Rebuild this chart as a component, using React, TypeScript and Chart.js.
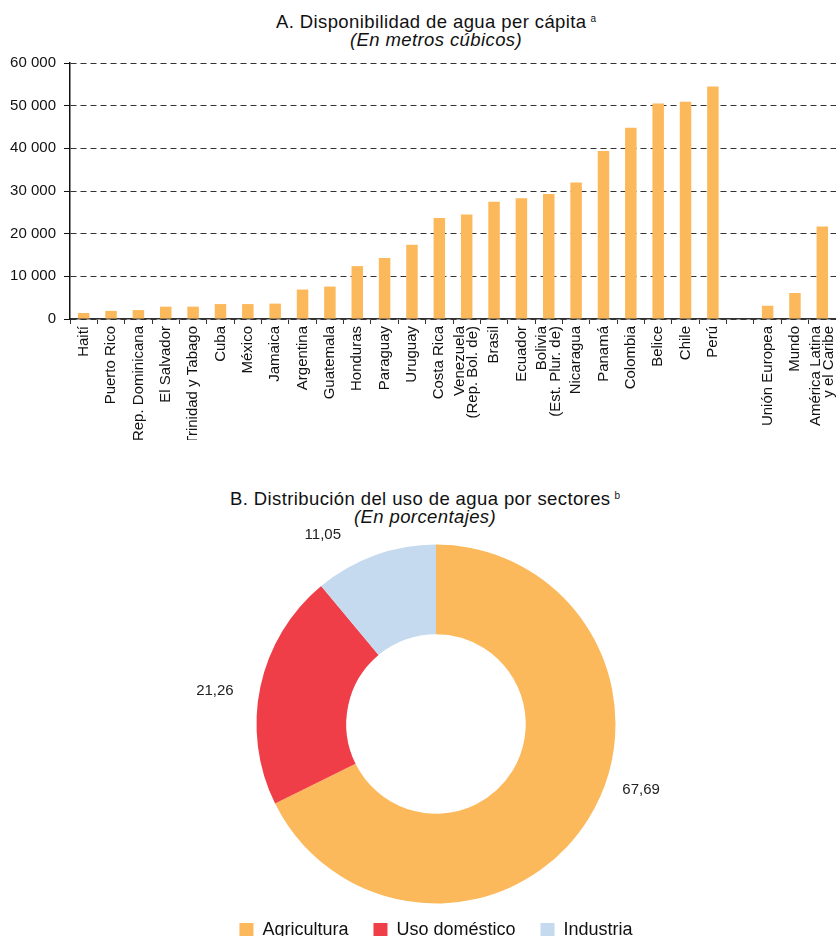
import React, { useEffect, useRef } from 'react';
import { Chart, registerables } from 'chart.js';

Chart.register(...registerables);

const FONT = "'Liberation Sans', Arial, Helvetica, sans-serif";

const countries: (string | string[])[] = [
  'Haití', 'Puerto Rico', 'Rep. Dominicana', 'El Salvador', 'Trinidad y Tabago', 'Cuba', 'México',
  'Jamaica', 'Argentina', 'Guatemala', 'Honduras', 'Paraguay', 'Uruguay', 'Costa Rica',
  ['Venezuela', '(Rep. Bol. de)'], 'Brasil', 'Ecuador', ['Bolivia', '(Est. Plur. de)'], 'Nicaragua',
  'Panamá', 'Colombia', 'Belice', 'Chile', 'Perú', '', 'Unión Europea', 'Mundo',
  ['América Latina', 'y el Caribe'],
];
const waterPerCapita: (number | null)[] = [
  1400, 1900, 2100, 2900, 2900, 3500, 3500, 3600, 6900, 7600, 12400, 14300, 17400, 23700,
  24500, 27500, 28300, 29300, 32000, 39400, 44800, 50500, 50900, 54500, null, 3100, 6100, 21700,
];
const yMin = 0;
const yMax = 60000;
const yStep = 10000;

const sectors = ['Agricultura', 'Uso doméstico', 'Industria'];
const sectorShares = [67.69, 21.26, 11.05];
const sectorLabels = ['67,69', '21,26', '11,05'];
const sectorColors = ['#FCB95B', '#EF3E48', '#C5D9EF'];
const labelShiftDeg = [-14, -3.5, -11];
const labelGap = [36, 44, 41];

const BAR_COLOR = '#FCB95B';

const fmtThousands = (v: number) => String(v).replace(/\B(?=(\d{3})+(?!\d))/g, ' ');

// Centre multi-line rotated tick labels on their tick
const centerMultilinePlugin = {
  id: 'centerMultiline',
  beforeDraw(chart: any) {
    const scale = chart.scales.x;
    if (!scale || !scale.getLabelItems) return;
    const items = scale.getLabelItems();
    items.forEach((item: any) => {
      if (Array.isArray(item.label) && item.label.length > 1 && !item._centered) {
        const lh = item.font.lineHeight;
        item.options.translation[0] -= ((item.label.length - 1) * lh) / 2;
        item._centered = true;
      }
    });
  },
};

const sliceLabelPlugin = {
  id: 'sliceLabels',
  afterDatasetsDraw(chart: any) {
    const meta = chart.getDatasetMeta(0);
    const ctx = chart.ctx;
    ctx.save();
    ctx.font = `15px ${FONT}`;
    ctx.fillStyle = '#222';
    ctx.textAlign = 'center';
    ctx.textBaseline = 'middle';
    meta.data.forEach((arc: any, i: number) => {
      const { x, y, startAngle, endAngle, outerRadius } = arc.getProps(
        ['x', 'y', 'startAngle', 'endAngle', 'outerRadius'], true);
      const a = (startAngle + endAngle) / 2 + (labelShiftDeg[i] * Math.PI) / 180;
      const r = outerRadius + labelGap[i];
      ctx.fillText(sectorLabels[i], x + r * Math.cos(a), y + r * Math.sin(a));
    });
    ctx.restore();
  },
};

export default function App() {
  const barRef = useRef<HTMLCanvasElement>(null);
  const pieRef = useRef<HTMLCanvasElement>(null);

  useEffect(() => {
    Chart.defaults.font.family = FONT;
    Chart.defaults.color = '#111';

    const bar = new Chart(barRef.current!, {
      type: 'bar',
      data: {
        labels: countries as any,
        datasets: [{
          data: waterPerCapita,
          backgroundColor: BAR_COLOR,
          borderWidth: 0,
          barPercentage: 0.42,
          categoryPercentage: 1,
        }],
      },
      options: {
        animation: false,
        responsive: false,
        maintainAspectRatio: false,
        layout: { padding: { top: 63, left: 10, right: 0, bottom: 0 } },
        plugins: { legend: { display: false }, tooltip: { enabled: false }, title: { display: false } },
        scales: {
          x: {
            offset: true,
            grid: {
              display: true, drawOnChartArea: false, drawTicks: true, tickLength: 5,
              color: '#333', offset: true,
            },
            border: { display: true, color: '#333', width: 1.5 },
            ticks: {
              autoSkip: false, minRotation: 90, maxRotation: 90, padding: 2,
              font: { size: 15, lineHeight: 0.89 }, color: '#111',
            },
            afterFit: (s: any) => { s.height = 121; s.paddingLeft = 0; s.paddingRight = 0; },
          },
          y: {
            min: yMin, max: yMax,
            grid: { color: '#333', lineWidth: 1, tickLength: 6, drawTicks: true, tickColor: '#111' },
            border: { display: true, color: '#111', width: 1.5, dash: [6, 4] },
            ticks: {
              stepSize: yStep, padding: 8, font: { size: 15 }, color: '#111',
              callback: (v: any) => fmtThousands(Number(v)),
            },
            afterFit: (s: any) => { s.width = 60; },
          },
        },
      },
      plugins: [centerMultilinePlugin],
    });

    const pie = new Chart(pieRef.current!, {
      type: 'doughnut',
      data: {
        labels: sectors,
        datasets: [{
          data: sectorShares,
          backgroundColor: sectorColors,
          borderWidth: 0,
          radius: 179.5,
          cutout: '50%',
          clip: false,
        } as any],
      },
      options: {
        animation: false,
        responsive: false,
        maintainAspectRatio: false,
        layout: { padding: { top: 105, left: 36, right: 0, bottom: 18 } },
        plugins: {
          tooltip: { enabled: false },
          legend: {
            display: true,
            position: 'bottom',
            labels: {
              boxWidth: 14, boxHeight: 14, padding: 25,
              font: { size: 18 }, color: '#111',
            },
          },
        },
      },
      plugins: [sliceLabelPlugin],
    });

    return () => { bar.destroy(); pie.destroy(); };
  }, []);

  const titleStyle: React.CSSProperties = {
    position: 'absolute', left: 0, width: 836, textAlign: 'center', boxSizing: 'border-box',
    fontFamily: FONT, fontSize: 18.5, letterSpacing: 0.4, color: '#111', lineHeight: '21px',
    whiteSpace: 'nowrap',
  };
  const supStyle: React.CSSProperties = { fontSize: 10, verticalAlign: 6, marginLeft: 4, letterSpacing: 0 };

  return (
    <div style={{ position: 'absolute', left: 0, top: 0, width: 836, height: 936, overflow: 'hidden', background: '#fff' }}>
      <div style={{ ...titleStyle, top: 8, paddingLeft: 36 }}>
        A. Disponibilidad de agua per cápita<span style={supStyle}>a</span>
      </div>
      <div style={{ ...titleStyle, top: 29, paddingLeft: 36, fontStyle: 'italic' }}>
        (En metros cúbicos)
      </div>
      <canvas ref={barRef} width={836} height={440}
        style={{ position: 'absolute', left: 0, top: 0, width: 836, height: 440 }} />
      <div style={{ ...titleStyle, top: 485, paddingLeft: 14 }}>
        B. Distribución del uso de agua por sectores<span style={supStyle}>b</span>
      </div>
      <div style={{ ...titleStyle, top: 506, paddingLeft: 14, fontStyle: 'italic' }}>
        (En porcentajes)
      </div>
      <canvas ref={pieRef} width={836} height={520}
        style={{ position: 'absolute', left: 0, top: 447, width: 836, height: 520 }} />
    </div>
  );
}
